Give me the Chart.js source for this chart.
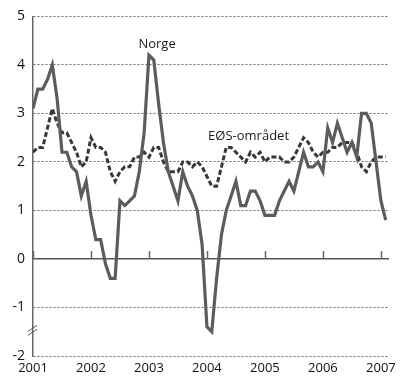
<!DOCTYPE html>
<html>
<head>
<meta charset="utf-8">
<script src="https://cdn.jsdelivr.net/npm/chart.js@4"></script>
<style>
  html, body { margin: 0; padding: 0; background: #fff; }
  #wrap { width: 400px; height: 379px; position: relative; }
</style>
</head>
<body>
<div id="wrap"><canvas id="chart"></canvas></div>
<script>
// Monthly values, Jan 2001 - Feb 2007
const startYear = 2001;
const yearTicks = [2001, 2002, 2003, 2004, 2005, 2006, 2007];
const norge = [
  3.1, 3.5, 3.5, 3.7, 4.0, 3.3, 2.2, 2.2, 1.9, 1.8, 1.3, 1.6,
  0.9, 0.4, 0.4, -0.1, -0.4, -0.4, 1.2, 1.1, 1.2, 1.3, 1.8, 2.6,
  4.2, 4.1, 3.2, 2.4, 1.8, 1.5, 1.2, 1.8, 1.5, 1.3, 1.0, 0.3,
  -1.4, -1.5, -0.4, 0.5, 1.0, 1.3, 1.6, 1.1, 1.1, 1.4, 1.4, 1.2,
  0.9, 0.9, 0.9, 1.2, 1.4, 1.6, 1.4, 1.8, 2.2, 1.9, 1.9, 2.0,
  1.8, 2.7, 2.4, 2.8, 2.5, 2.2, 2.4, 2.1, 3.0, 3.0, 2.8, 2.0,
  1.2, 0.8
];
const eos = [
  2.2, 2.3, 2.3, 2.7, 3.1, 2.8, 2.6, 2.6, 2.4, 2.2, 1.9, 2.0,
  2.5, 2.3, 2.3, 2.2, 1.8, 1.6, 1.8, 1.9, 1.9, 2.1, 2.1, 2.2,
  2.1, 2.3, 2.3, 2.0, 1.8, 1.8, 1.8, 2.0, 2.0, 1.9, 2.0, 1.9,
  1.7, 1.5, 1.5, 1.9, 2.3, 2.3, 2.2, 2.1, 2.0, 2.2, 2.1, 2.2,
  2.0, 2.1, 2.1, 2.1, 2.0, 2.0, 2.1, 2.3, 2.5, 2.4, 2.2, 2.1,
  2.2, 2.2, 2.3, 2.3, 2.4, 2.4, 2.4, 2.2, 1.9, 1.8, 2.0, 2.1,
  2.1, 2.1
];
const seriesLabels = ["Norge", "EØS-området"];

const FONT = "'Open Sans', 'DejaVu Sans', sans-serif";

function toPoints(values) {
  return values.map((v, i) => ({ x: startYear + i / 12, y: v }));
}

// Year tick marks on the zero line, the axis break and the series labels
const extras = {
  id: "extras",
  afterDatasetsDraw(chart) {
    const ctx = chart.ctx;
    const xs = chart.scales.x;
    const ys = chart.scales.y;
    const y0 = ys.getPixelForValue(0);
    ctx.save();
    ctx.strokeStyle = "#666";
    ctx.lineWidth = 1.5;
    yearTicks.forEach((yr) => {
      const px = Math.round(xs.getPixelForValue(yr)) + 0.5;
      ctx.beginPath();
      ctx.moveTo(px, y0);
      ctx.lineTo(px, y0 - 8);
      ctx.stroke();
    });

    // axis break
    const ax = chart.chartArea.left;
    const yb = ys.getPixelForValue(-1.47);
    ctx.strokeStyle = "#555";
    ctx.lineWidth = 1;
    [-2, 2].forEach((d) => {
      ctx.beginPath();
      ctx.moveTo(ax - 5, yb + d + 3);
      ctx.lineTo(ax + 4, yb + d - 3);
      ctx.stroke();
    });

    // labels
    ctx.fillStyle = "#1a1a1a";
    ctx.font = "13px " + FONT;
    ctx.textBaseline = "middle";
    ctx.textAlign = "center";
    ctx.fillText(seriesLabels[0], xs.getPixelForValue(2003.14), ys.getPixelForValue(4.43));
    ctx.textAlign = "left";
    ctx.fillText(seriesLabels[1], xs.getPixelForValue(2004.02), ys.getPixelForValue(2.52));
    ctx.restore();
  },
};

new Chart(document.getElementById("chart"), {
  type: "line",
  data: {
    datasets: [
      {
        label: seriesLabels[0],
        data: toPoints(norge),
        borderColor: "#5c5c5c",
        borderWidth: 3.2,
        pointRadius: 0,
        tension: 0,
      },
      {
        label: seriesLabels[1],
        data: toPoints(eos),
        borderColor: "#383838",
        borderWidth: 3,
        borderDash: [5, 2.5],
        pointRadius: 0,
        tension: 0,
      },
    ],
  },
  options: {
    responsive: true,
    maintainAspectRatio: false,
    animation: false,
    layout: { padding: { top: 2, right: 11, left: 0, bottom: 0 } },
    plugins: { legend: { display: false }, tooltip: { enabled: false } },
    scales: {
      x: {
        type: "linear",
        min: 2001,
        max: 2007.14,
        afterFit(scale) { scale.height = 23; },
        afterBuildTicks(scale) {
          scale.ticks = yearTicks.map((v) => ({ value: v }));
        },
        grid: { display: false, drawTicks: false, tickLength: 0 },
        border: { display: false },
        ticks: {
          color: "#111",
          font: { family: FONT, size: 13 },
          padding: 4,
          maxRotation: 0,
          autoSkip: false,
          callback: (v) => String(v),
        },
      },
      y: {
        min: -2,
        max: 5,
        afterFit(scale) { scale.width = 33; },
        ticks: {
          stepSize: 1,
          color: "#111",
          font: { family: FONT, size: 14 },
          padding: 8,
        },
        border: {
          display: true,
          color: "#666",
          width: 1.5,
          dash: (c) => (c.tick && c.tick.value === 0 ? [] : [2, 2]),
        },
        grid: {
          drawTicks: false,
          color: (c) => (c.tick && c.tick.value === 0 ? "#555" : "#666"),
          lineWidth: (c) => (c.tick && c.tick.value === 0 ? 1.5 : 1),
        },
      },
    },
  },
  plugins: [extras],
});
</script>
</body>
</html>
